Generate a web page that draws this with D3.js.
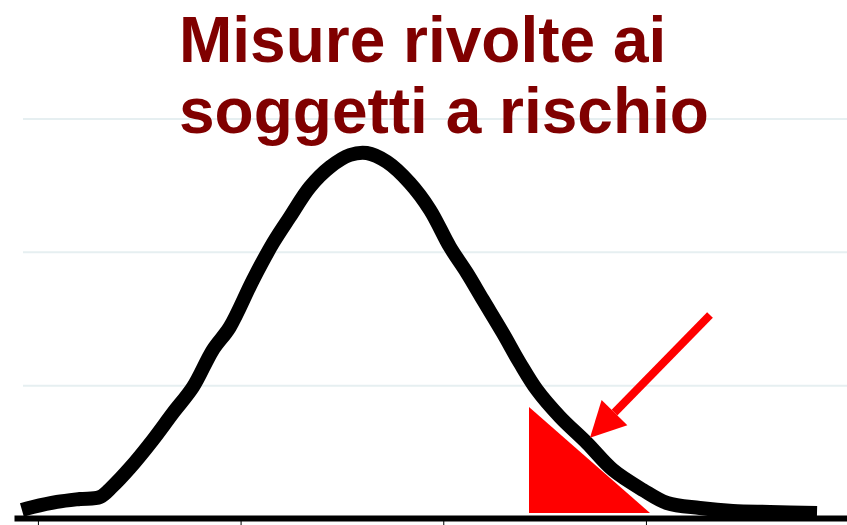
<!DOCTYPE html>
<html>
<head>
<meta charset="utf-8">
<script src="https://d3js.org/d3.v7.min.js"></script>
<style>
  body { margin: 0; background: #fff; }
</style>
</head>
<body>
<script>
// curve (x in tick units, y in gridline units)
var curveX = [-0.079, -0.025, 0.094, 0.207, 0.306, 0.365, 0.454, 0.567, 0.666, 0.765, 0.863, 0.947,
              1.061, 1.16, 1.243, 1.342, 1.441, 1.539, 1.623, 1.722, 1.835, 1.934, 2.033, 2.117,
              2.196, 2.294, 2.378, 2.462, 2.576, 2.709, 2.837, 2.985, 3.104, 3.266, 3.429, 3.612, 3.844];
var curveY = [0.068, 0.09, 0.128, 0.15, 0.165, 0.24, 0.383, 0.593, 0.795, 0.99, 1.268, 1.44,
              1.793, 2.07, 2.265, 2.49, 2.64, 2.73, 2.745, 2.678, 2.52, 2.32, 2.04, 1.845,
              1.643, 1.395, 1.17, 0.968, 0.765, 0.57, 0.368, 0.218, 0.12, 0.083, 0.06, 0.053, 0.045];

// red tail area
var tailX = [2.423, 3.02];
var tailY = [0.84, 0];

// arrow start / tip
var arrowX = [3.316, 2.724];
var arrowY = [1.53, 0.61];

var gridValues = [1, 2, 3];
var tickValues = [0, 1, 2, 3];
var titleLines = ["Misure rivolte ai", "soggetti a rischio"];

var width = 847, height = 525;

var svg = d3.select("body").append("svg")
  .attr("width", width)
  .attr("height", height);

var x = d3.scaleLinear()
  .domain([-0.118, 3.992])
  .range([14, 847]);

var y = d3.scaleLinear()
  .domain([0, 3])
  .range([519, 119]);

// gridlines
svg.append("g")
  .selectAll("line")
  .data(gridValues)
  .enter().append("line")
  .attr("x1", 23)
  .attr("x2", width)
  .attr("y1", d => y(d))
  .attr("y2", d => y(d))
  .style("stroke", "#e6eff1")
  .style("stroke-width", 2);

// red tail
var tail = tailX.map((d, i) => ({x: d, y: tailY[i]}));
var area = d3.area()
  .x(d => x(d.x))
  .y0(y(0) - 6)
  .y1(d => Math.min(y(d.y), y(0) - 6));

svg.append("path")
  .datum(tail)
  .attr("d", area)
  .style("fill", "#ff0000");

// bell curve
var pts = curveX.map((d, i) => ({x: d, y: curveY[i]}));
var line = d3.line()
  .curve(d3.curveCatmullRom)
  .x(d => x(d.x))
  .y(d => y(d.y));

svg.append("path")
  .datum(pts)
  .attr("d", line)
  .style("fill", "none")
  .style("stroke", "#000")
  .style("stroke-width", 14)
  .style("stroke-linejoin", "round");

// x axis
var xAxis = d3.axisBottom(x)
  .tickValues(tickValues)
  .tickSize(8)
  .tickSizeOuter(0)
  .tickFormat("");

var gx = svg.append("g")
  .attr("class", "x axis")
  .attr("transform", "translate(0," + (y(0) - 1) + ")")
  .call(xAxis);
gx.select(".domain").style("stroke", "#000").style("stroke-width", 6);
gx.selectAll(".tick line").style("stroke", "#000").style("stroke-width", 1);

// arrow
var x0 = x(arrowX[0]), y0 = y(arrowY[0]), x1 = x(arrowX[1]), y1 = y(arrowY[1]);
var ang = Math.atan2(y1 - y0, x1 - x0);
var headLen = 35, headHalf = 18;
var bx = x1 - headLen * Math.cos(ang), by = y1 - headLen * Math.sin(ang);

svg.append("line")
  .attr("x1", x0).attr("y1", y0)
  .attr("x2", bx).attr("y2", by)
  .style("stroke", "#ff0000")
  .style("stroke-width", 8);

svg.append("path")
  .attr("d", d3.line()([
    [x1, y1],
    [bx + headHalf * Math.sin(ang), by - headHalf * Math.cos(ang)],
    [bx - headHalf * Math.sin(ang), by + headHalf * Math.cos(ang)]
  ]))
  .style("fill", "#ff0000");

// title
svg.append("text")
  .attr("x", 179)
  .attr("y", 62)
  .style("font-family", "'Liberation Sans', Arial, sans-serif")
  .style("font-size", "64px")
  .style("font-weight", 700)
  .style("fill", "#800000")
  .selectAll("tspan")
  .data(titleLines)
  .enter().append("tspan")
  .attr("x", 179)
  .attr("dy", (d, i) => i ? 71 : 0)
  .text(d => d);
</script>
</body>
</html>
